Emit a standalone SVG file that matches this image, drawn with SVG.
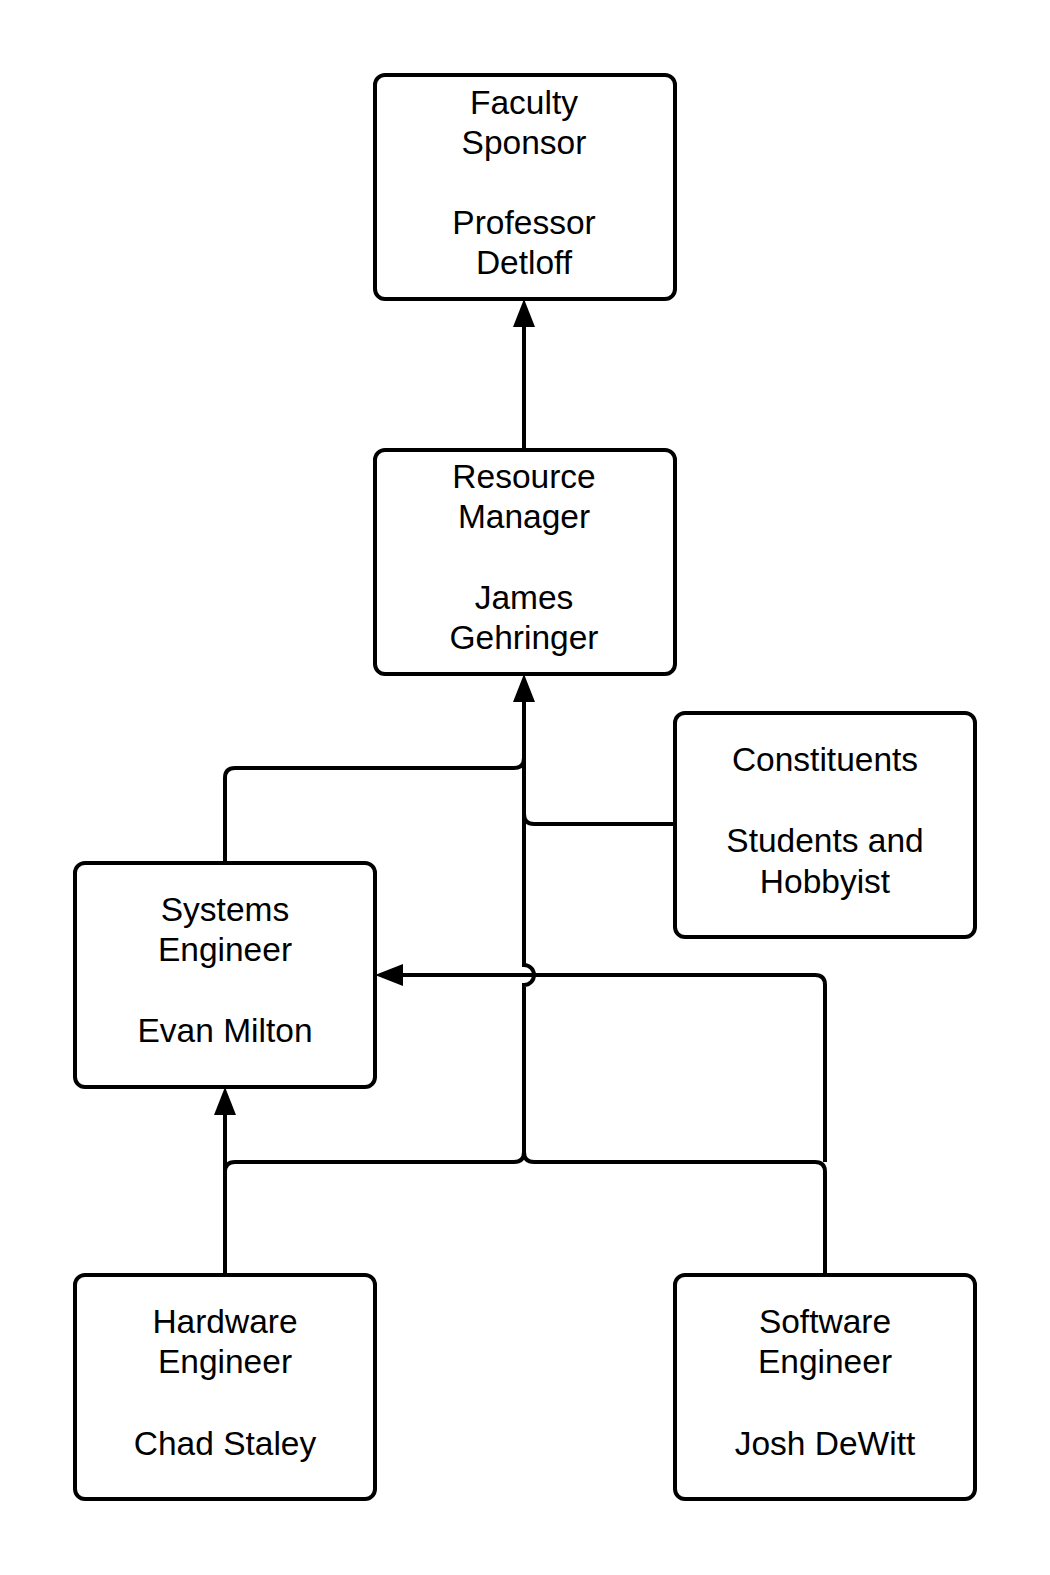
<svg xmlns="http://www.w3.org/2000/svg" width="1050" height="1575" viewBox="0 0 1050 1575">
  <style>
    .box { fill: #ffffff; stroke: #000000; stroke-width: 4; }
    .lbl { font-family: "Liberation Sans", Arial, sans-serif; font-size: 33.5px; fill: #000000; text-anchor: middle; }
    .conn { fill: none; stroke: #000000; stroke-width: 4; }
  </style>
  <defs>
    <marker id="arrow" markerUnits="userSpaceOnUse" markerWidth="28" markerHeight="22" refX="18" refY="11" orient="auto">
      <path d="M0,0 L28,11 L0,22 z" fill="#000000"/>
    </marker>
  </defs>
  <rect width="1050" height="1575" fill="#ffffff"/>

  <g id="connectors">
    <path class="conn" d="M524,448 L524,309" marker-end="url(#arrow)"/>
    <path class="conn" d="M524,1152 L524,985 A10,10 0 0 0 524,965 L524,684" marker-end="url(#arrow)"/>
    <path class="conn" d="M225,861 L225,778 Q225,768 235,768 L514,768 Q524,768 524,758"/>
    <path class="conn" d="M673,824 L534,824 Q524,824 524,814"/>
    <path class="conn" d="M225,1273 L225,1097" marker-end="url(#arrow)"/>
    <path class="conn" d="M225,1273 L225,1172 Q225,1162 235,1162 L514,1162 Q524,1162 524,1152"/>
    <path class="conn" d="M825,1273 L825,1172 Q825,1162 815,1162 L534,1162 Q524,1162 524,1152"/>
    <path class="conn" d="M825,1162 L825,985 Q825,975 815,975 L385,975" marker-end="url(#arrow)"/>
  </g>

  <g id="faculty-sponsor">
    <rect class="box" x="375" y="75" width="300" height="224" rx="10"/>
    <text class="lbl" x="524" y="114">Faculty</text>
    <text class="lbl" x="524" y="154">Sponsor</text>
    <text class="lbl" x="524" y="234">Professor</text>
    <text class="lbl" x="524" y="274">Detloff</text>
  </g>

  <g id="resource-manager">
    <rect class="box" x="375" y="450" width="300" height="224" rx="10"/>
    <text class="lbl" x="524" y="488">Resource</text>
    <text class="lbl" x="524" y="528">Manager</text>
    <text class="lbl" x="524" y="609">James</text>
    <text class="lbl" x="524" y="649">Gehringer</text>
  </g>

  <g id="constituents">
    <rect class="box" x="675" y="713" width="300" height="224" rx="10"/>
    <text class="lbl" x="825" y="771">Constituents</text>
    <text class="lbl" x="825" y="852">Students and</text>
    <text class="lbl" x="825" y="893">Hobbyist</text>
  </g>

  <g id="systems-engineer">
    <rect class="box" x="75" y="863" width="300" height="224" rx="10"/>
    <text class="lbl" x="225" y="921">Systems</text>
    <text class="lbl" x="225" y="961">Engineer</text>
    <text class="lbl" x="225" y="1042">Evan Milton</text>
  </g>

  <g id="hardware-engineer">
    <rect class="box" x="75" y="1275" width="300" height="224" rx="10"/>
    <text class="lbl" x="225" y="1333">Hardware</text>
    <text class="lbl" x="225" y="1373">Engineer</text>
    <text class="lbl" x="225" y="1455">Chad Staley</text>
  </g>

  <g id="software-engineer">
    <rect class="box" x="675" y="1275" width="300" height="224" rx="10"/>
    <text class="lbl" x="825" y="1333">Software</text>
    <text class="lbl" x="825" y="1373">Engineer</text>
    <text class="lbl" x="825" y="1455">Josh DeWitt</text>
  </g>
</svg>
